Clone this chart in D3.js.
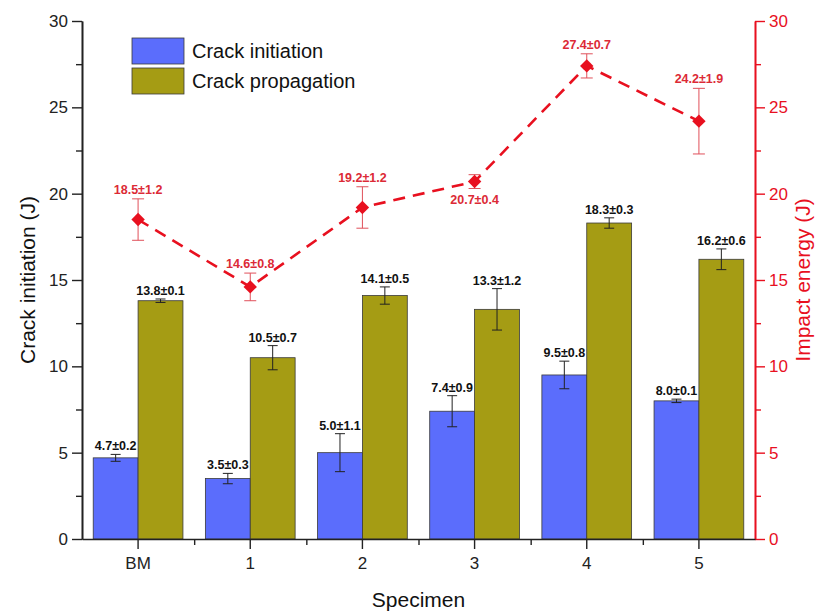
<!DOCTYPE html>
<html>
<head>
<meta charset="utf-8">
<script src="https://cdn.jsdelivr.net/npm/d3@7"></script>
<style>
  body { margin: 0; background: #fff; }
  svg { display: block; font-family: "Liberation Sans", Arial, sans-serif; }
</style>
</head>
<body>
<svg id="chart" width="821" height="614"></svg>
<script>
// Specimens and measured energies (J)
const specimens = ["BM", "1", "2", "3", "4", "5"];
const initiation = [4.7, 3.5, 5.0, 7.4, 9.5, 8.0];
const initiationErr = [0.2, 0.3, 1.1, 0.9, 0.8, 0.1];
const propagation = [13.8, 10.5, 14.1, 13.3, 18.3, 16.2];
const propagationErr = [0.1, 0.7, 0.5, 1.2, 0.3, 0.6];
const impact = [18.5, 14.6, 19.2, 20.7, 27.4, 24.2];
const impactErr = [1.2, 0.8, 1.2, 0.4, 0.7, 1.9];
// impact labels drawn below the point instead of above
const impactLabelBelow = [false, false, false, true, false, false];
const yTicks = [0, 5, 10, 15, 20, 25, 30];

const BLUE = "#5b6dfc", OLIVE = "#a59c14", RED = "#e8101f", LABEL_RED = "#dc2a36";

const svg = d3.select("#chart");
const m = { left: 82, right: 755, top: 21, bottom: 539 };

const x = d3.scaleBand().domain(specimens).range([m.left, m.right]).paddingInner(0).paddingOuter(0);
const yL = d3.scaleLinear().domain([0, 30]).range([m.bottom, m.top]);
const yR = d3.scaleLinear().domain([0, 30]).range([m.bottom, m.top]);
const barW = x.bandwidth() * 0.4;

const fmt = (v, e) => v.toFixed(1) + "\u00b1" + e.toFixed(1);

// bars
const g = svg.append("g");
const series = [
  { vals: initiation, errs: initiationErr, color: BLUE, off: -barW },
  { vals: propagation, errs: propagationErr, color: OLIVE, off: 0 }
];
series.forEach(s => {
  const cx = (d, i) => x(specimens[i]) + x.bandwidth() / 2 + s.off;
  g.selectAll(null).data(s.vals).enter().append("rect")
    .attr("x", cx)
    .attr("y", d => yL(d))
    .attr("width", barW)
    .attr("height", d => yL(0) - yL(d))
    .attr("fill", s.color)
    .attr("stroke", "#3a3a3a")
    .attr("stroke-width", 0.8);
  // error bars
  s.vals.forEach((v, i) => {
    const mx = cx(v, i) + barW / 2;
    const e = s.errs[i];
    const eg = g.append("g").attr("stroke", "#222").attr("stroke-width", 1);
    eg.append("line").attr("x1", mx).attr("x2", mx).attr("y1", yL(v - e)).attr("y2", yL(v + e));
    eg.append("line").attr("x1", mx - 5).attr("x2", mx + 5).attr("y1", yL(v - e)).attr("y2", yL(v - e));
    eg.append("line").attr("x1", mx - 5).attr("x2", mx + 5).attr("y1", yL(v + e)).attr("y2", yL(v + e));
    g.append("text")
      .attr("x", mx)
      .attr("y", yL(v + e) - 4)
      .attr("text-anchor", "middle")
      .attr("font-size", 12.5)
      .attr("font-weight", "bold")
      .attr("fill", "#111")
      .text(fmt(v, e));
  });
});

// impact energy line
const px = i => x(specimens[i]) + x.bandwidth() / 2;
const line = d3.line().x((d, i) => px(i)).y(d => yR(d));
svg.append("path")
  .datum(impact)
  .attr("d", line)
  .attr("fill", "none")
  .attr("stroke", RED)
  .attr("stroke-width", 2.6)
  .attr("stroke-dasharray", "12,8");

impact.forEach((v, i) => {
  const e = impactErr[i];
  const mx = px(i);
  const eg = svg.append("g").attr("stroke", "#e0505a").attr("stroke-width", 1);
  eg.append("line").attr("x1", mx).attr("x2", mx).attr("y1", yR(v - e)).attr("y2", yR(v + e));
  eg.append("line").attr("x1", mx - 6).attr("x2", mx + 6).attr("y1", yR(v - e)).attr("y2", yR(v - e));
  eg.append("line").attr("x1", mx - 6).attr("x2", mx + 6).attr("y1", yR(v + e)).attr("y2", yR(v + e));
});

// diamond markers: squares turned 45 degrees
svg.append("g").selectAll("path").data(impact).enter().append("path")
  .attr("d", d3.symbol().type(d3.symbolSquare).size(90))
  .attr("transform", (d, i) => `translate(${px(i)},${yR(d)}) rotate(45)`)
  .attr("fill", RED);

impact.forEach((v, i) => {
  const e = impactErr[i];
  svg.append("text")
    .attr("x", px(i))
    .attr("y", impactLabelBelow[i] ? yR(v - e) + 16 : yR(v + e) - 5)
    .attr("text-anchor", "middle")
    .attr("font-size", 12.5)
    .attr("font-weight", "bold")
    .attr("fill", LABEL_RED)
    .text(fmt(v, e));
});

// axes
const axisStyle = (sel, color) => {
  sel.select(".domain").attr("stroke", color).attr("stroke-width", 1.6);
  sel.selectAll(".tick line").attr("stroke", color).attr("stroke-width", 1.4);
  sel.selectAll(".tick text").attr("fill", color).attr("font-size", 17)
    .attr("font-family", "'Liberation Sans', Arial, sans-serif");
};

// left axis with minor ticks
const leftMinor = svg.append("g").attr("transform", `translate(${m.left},0)`)
  .call(d3.axisLeft(yL).tickValues(d3.range(2.5, 30, 5)).tickSize(6).tickFormat("").tickSizeOuter(0));
axisStyle(leftMinor, "#222");
const left = svg.append("g").attr("transform", `translate(${m.left},0)`)
  .call(d3.axisLeft(yL).tickValues(yTicks).tickSize(10).tickPadding(4).tickSizeOuter(0));
axisStyle(left, "#222");

// right axis with minor ticks
const rightMinor = svg.append("g").attr("transform", `translate(${m.right},0)`)
  .call(d3.axisRight(yR).tickValues(d3.range(2.5, 30, 5)).tickSize(6).tickFormat("").tickSizeOuter(0));
axisStyle(rightMinor, RED);
const right = svg.append("g").attr("transform", `translate(${m.right},0)`)
  .call(d3.axisRight(yR).tickValues(yTicks).tickSize(10).tickPadding(4).tickSizeOuter(0));
axisStyle(right, RED);

// bottom axis: major ticks at categories, minor at group boundaries
const bottomMinor = svg.append("g").attr("transform", `translate(0,${m.bottom})`)
  .call(d3.axisBottom(d3.scaleLinear().domain([0, specimens.length]).range([m.left, m.right]))
    .tickValues(d3.range(1, specimens.length)).tickSize(6).tickFormat("").tickSizeOuter(0));
axisStyle(bottomMinor, "#222");
bottomMinor.select(".domain").remove();
const bottom = svg.append("g").attr("transform", `translate(0,${m.bottom})`)
  .call(d3.axisBottom(x).tickSize(10).tickPadding(8).tickSizeOuter(0));
axisStyle(bottom, "#222");

// axis titles
svg.append("text")
  .attr("transform", `translate(35,${(m.top + m.bottom) / 2}) rotate(-90)`)
  .attr("text-anchor", "middle")
  .attr("font-size", 21)
  .attr("fill", "#111")
  .text("Crack initiation (J)");
svg.append("text")
  .attr("transform", `translate(810,${(m.top + m.bottom) / 2}) rotate(-90)`)
  .attr("text-anchor", "middle")
  .attr("font-size", 21)
  .attr("fill", RED)
  .text("Impact energy (J)");
svg.append("text")
  .attr("x", (m.left + m.right) / 2)
  .attr("y", 607)
  .attr("text-anchor", "middle")
  .attr("font-size", 21)
  .attr("fill", "#111")
  .text("Specimen");

// legend
const legendItems = [{ label: "Crack initiation", color: BLUE }, { label: "Crack propagation", color: OLIVE }];
const lg = svg.append("g").attr("transform", "translate(132,38)");
legendItems.forEach((d, i) => {
  lg.append("rect").attr("x", 0).attr("y", i * 30).attr("width", 52).attr("height", 26)
    .attr("fill", d.color).attr("stroke", "#3a3a3a").attr("stroke-width", 0.8);
  lg.append("text").attr("x", 60).attr("y", i * 30 + 20)
    .attr("font-size", 20).attr("fill", "#111").text(d.label);
});
</script>
</body>
</html>
